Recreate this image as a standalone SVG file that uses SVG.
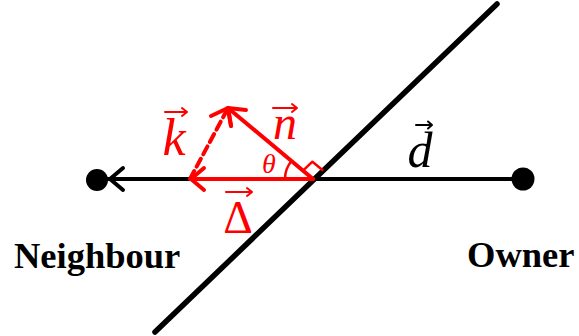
<svg xmlns="http://www.w3.org/2000/svg" width="579" height="336" viewBox="0 0 579 336">
<style>
.blk{stroke:#000;fill:none;stroke-linecap:round;stroke-linejoin:round}
.red{stroke:#ff0000;fill:none;stroke-linecap:round;stroke-linejoin:round}
.lbl{font-family:"Liberation Serif","Times New Roman",serif;font-weight:bold;font-size:36.5px;fill:#000}
.math{font-family:"Liberation Serif","Times New Roman",serif;font-style:italic;text-anchor:middle}
.acc{stroke-width:2;fill:none;stroke-linecap:round;stroke-linejoin:round}
</style>
<rect width="579" height="336" fill="#fff"/>
<g id="face">
<line class="blk" x1="155" y1="332" x2="497" y2="4" stroke-width="5.5" stroke-linecap="butt"/>
</g>
<g id="connectors">
<line class="blk" x1="97" y1="179" x2="523" y2="179" stroke-width="4"/>
<polyline class="blk" points="123,168 110,179 123,190" stroke-width="4"/>
<g id="delta-vec">
<line class="red" x1="313" y1="179" x2="191" y2="179" stroke-width="4"/>
<polyline class="red" points="204,168 191,179 204,190" stroke-width="4"/>
</g>
<g id="n-vec">
<line class="red" x1="313" y1="179" x2="228" y2="108" stroke-width="4"/>
<polyline class="red" points="246,110 228,108 231,126" stroke-width="4"/>
</g>
<g id="k-vec">
<line class="red" x1="190" y1="179" x2="227" y2="110" stroke-width="4" stroke-dasharray="9 5" stroke-linecap="butt"/>
<polyline class="red" points="211,116 228,108 231,126" stroke-width="4"/>
</g>
<path class="red" d="M303,170.7 L312.4,161.7 L322.4,170" stroke-width="2.5"/>
<path class="red" d="M285,179 A28,28 0 0 1 291.5,161" stroke-width="2.5"/>
</g>
<g id="neighbour">
<circle cx="97" cy="180" r="11" fill="#000"/>
<text class="lbl" x="14" y="268">Neighbour</text>
</g>
<g id="owner">
<circle cx="523" cy="179" r="11.5" fill="#000"/>
<text class="lbl" x="467" y="267">Owner</text>
</g>
<g id="labels">
<text class="math" x="174" y="155" font-size="52" fill="#ff0000">k</text>
<path class="acc" stroke="#ff0000" d="M165,112 H187 M182,108 L187,112 L182,116"/>
<text class="math" x="285" y="139" font-size="48" fill="#ff0000">n</text>
<path class="acc" stroke="#ff0000" d="M273,108 H297 M292,104 L297,108 L292,112"/>
<text x="238" y="233" font-family="Liberation Serif,serif" font-size="46" text-anchor="middle" fill="#ff0000">Δ</text>
<path class="acc" stroke="#ff0000" d="M226,192 H252 M247,188 L252,192 L247,196"/>
<text class="math" x="269" y="173" font-size="28" fill="#ff0000">θ</text>
<text class="math" x="420" y="167" font-size="50" fill="#000">d</text>
<path class="acc" stroke="#000" d="M416,125 H432 M428,121.5 L432,125 L428,128.5"/>
</g>
</svg>
